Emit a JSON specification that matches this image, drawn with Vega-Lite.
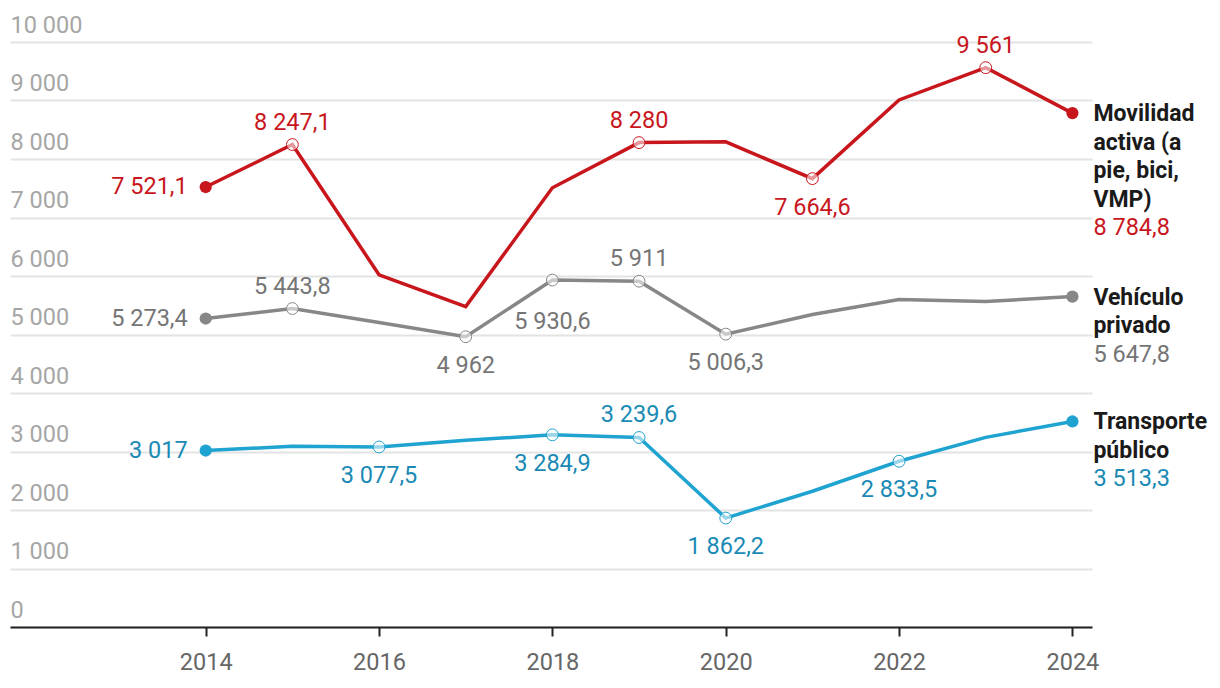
{
  "$schema": "https://vega.github.io/schema/vega-lite/v6.json",
  "width": 1082,
  "height": 585,
  "autosize": {"type": "none"},
  "padding": {"left": 10, "top": 42, "right": 128, "bottom": 61},
  "background": "white",
  "config": {
    "view": {"stroke": null},
    "font": "Roboto",
    "locale": {"number": {"decimal": ",", "thousands": " ", "grouping": [3], "currency": ["", " €"]}}
  },
  "datasets": {
    "datos": [
      {"serie": "Movilidad activa (a pie, bici, VMP)", "anio": 2014, "valor": 7521.1},
      {"serie": "Movilidad activa (a pie, bici, VMP)", "anio": 2015, "valor": 8247.1},
      {"serie": "Movilidad activa (a pie, bici, VMP)", "anio": 2016, "valor": 6020},
      {"serie": "Movilidad activa (a pie, bici, VMP)", "anio": 2017, "valor": 5478},
      {"serie": "Movilidad activa (a pie, bici, VMP)", "anio": 2018, "valor": 7508},
      {"serie": "Movilidad activa (a pie, bici, VMP)", "anio": 2019, "valor": 8280},
      {"serie": "Movilidad activa (a pie, bici, VMP)", "anio": 2020, "valor": 8293},
      {"serie": "Movilidad activa (a pie, bici, VMP)", "anio": 2021, "valor": 7664.6},
      {"serie": "Movilidad activa (a pie, bici, VMP)", "anio": 2022, "valor": 9010},
      {"serie": "Movilidad activa (a pie, bici, VMP)", "anio": 2023, "valor": 9561},
      {"serie": "Movilidad activa (a pie, bici, VMP)", "anio": 2024, "valor": 8784.8},
      {"serie": "Vehículo privado", "anio": 2014, "valor": 5273.4},
      {"serie": "Vehículo privado", "anio": 2015, "valor": 5443.8},
      {"serie": "Vehículo privado", "anio": 2016, "valor": 5205},
      {"serie": "Vehículo privado", "anio": 2017, "valor": 4962},
      {"serie": "Vehículo privado", "anio": 2018, "valor": 5930.6},
      {"serie": "Vehículo privado", "anio": 2019, "valor": 5911},
      {"serie": "Vehículo privado", "anio": 2020, "valor": 5006.3},
      {"serie": "Vehículo privado", "anio": 2021, "valor": 5341},
      {"serie": "Vehículo privado", "anio": 2022, "valor": 5597},
      {"serie": "Vehículo privado", "anio": 2023, "valor": 5563},
      {"serie": "Vehículo privado", "anio": 2024, "valor": 5647.8},
      {"serie": "Transporte público", "anio": 2014, "valor": 3017},
      {"serie": "Transporte público", "anio": 2015, "valor": 3089},
      {"serie": "Transporte público", "anio": 2016, "valor": 3077.5},
      {"serie": "Transporte público", "anio": 2017, "valor": 3191},
      {"serie": "Transporte público", "anio": 2018, "valor": 3284.9},
      {"serie": "Transporte público", "anio": 2019, "valor": 3239.6},
      {"serie": "Transporte público", "anio": 2020, "valor": 1862.2},
      {"serie": "Transporte público", "anio": 2021, "valor": 2321},
      {"serie": "Transporte público", "anio": 2022, "valor": 2833.5},
      {"serie": "Transporte público", "anio": 2023, "valor": 3242},
      {"serie": "Transporte público", "anio": 2024, "valor": 3513.3}
    ],
    "nombres": [
      {"serie": "Movilidad activa (a pie, bici, VMP)", "nombre": "Movilidad\nactiva (a\npie, bici,\nVMP)"},
      {"serie": "Vehículo privado", "nombre": "Vehículo\nprivado"},
      {"serie": "Transporte público", "nombre": "Transporte\npúblico"}
    ]
  },
  "data": {"name": "datos"},
  "encoding": {
    "x": {
      "field": "anio", "type": "quantitative",
      "scale": {"domain": [2011.742, 2024.226], "nice": false, "zero": false},
      "axis": {
        "title": null, "values": [2014, 2016, 2018, 2020, 2022, 2024], "format": "d",
        "grid": false, "domainColor": "#222222", "domainWidth": 2,
        "tickColor": "#222222", "tickWidth": 2, "tickSize": 9,
        "labelFont": "Roboto", "labelFontSize": 23.5, "labelColor": "#666666", "labelPadding": 14
      }
    },
    "y": {
      "field": "valor", "type": "quantitative",
      "scale": {"domain": [0, 10000], "nice": false},
      "axis": {
        "title": null, "values": [0, 1000, 2000, 3000, 4000, 5000, 6000, 7000, 8000, 9000, 10000],
        "format": ",d", "domain": false, "ticks": false, "tickSize": 0,
        "grid": true, "gridColor": "#e3e3e3", "gridWidth": 2,
        "labelAlign": "left", "labelBaseline": "alphabetic", "labelPadding": 0, "labelOffset": -10,
        "labelFont": "Roboto", "labelFontSize": 23.5, "labelColor": "#a6a6a6"
      }
    }
  },
  "layer": [
    {
      "mark": {"type": "line", "strokeWidth": 3.5},
      "encoding": {
        "color": {"field": "serie", "type": "nominal", "legend": null,
          "scale": {"domain": ["Movilidad activa (a pie, bici, VMP)", "Vehículo privado", "Transporte público"], "range": ["#c8161d", "#878787", "#1fa3d1"]}}
      }
    },
    {
      "transform": [{"filter": "(datum.serie === 'Movilidad activa (a pie, bici, VMP)' && indexof([2015, 2019, 2021, 2023], datum.anio) >= 0) || (datum.serie === 'Vehículo privado' && indexof([2015, 2017, 2018, 2019, 2020], datum.anio) >= 0) || (datum.serie === 'Transporte público' && indexof([2016, 2018, 2019, 2020, 2022], datum.anio) >= 0)"}],
      "mark": {"type": "point", "shape": "circle", "size": 140, "strokeWidth": 1, "fill": "white", "fillOpacity": 0.55, "opacity": 1, "filled": false},
      "encoding": {
        "stroke": {"field": "serie", "type": "nominal", "legend": null,
          "scale": {"domain": ["Movilidad activa (a pie, bici, VMP)", "Vehículo privado", "Transporte público"], "range": ["#c8161d", "#878787", "#1fa3d1"]}}
      }
    },
    {
      "transform": [{"filter": "datum.anio === 2014 || datum.anio === 2024"}],
      "mark": {"type": "point", "shape": "circle", "size": 150, "filled": true, "opacity": 1},
      "encoding": {
        "color": {"field": "serie", "type": "nominal", "legend": null,
          "scale": {"domain": ["Movilidad activa (a pie, bici, VMP)", "Vehículo privado", "Transporte público"], "range": ["#c8161d", "#878787", "#1fa3d1"]}}
      }
    },
    {
      "transform": [{"filter": "datum.anio === 2014"}],
      "mark": {"type": "text", "align": "right", "baseline": "middle", "dx": -18, "fontSize": 23.5, "font": "Roboto"},
      "encoding": {
        "text": {"field": "valor", "type": "quantitative", "format": ",.1~f"},
        "color": {"field": "serie", "type": "nominal", "legend": null,
          "scale": {"domain": ["Movilidad activa (a pie, bici, VMP)", "Vehículo privado", "Transporte público"], "range": ["#c8161d", "#757575", "#1a8ab5"]}}
      }
    },
    {
      "transform": [{"filter": "(datum.serie === 'Movilidad activa (a pie, bici, VMP)' && indexof([2015, 2019, 2023], datum.anio) >= 0) || (datum.serie === 'Vehículo privado' && indexof([2015, 2019], datum.anio) >= 0) || (datum.serie === 'Transporte público' && datum.anio === 2019)"}],
      "mark": {"type": "text", "align": "center", "baseline": "middle", "dy": -22, "fontSize": 23.5, "font": "Roboto"},
      "encoding": {
        "text": {"field": "valor", "type": "quantitative", "format": ",.1~f"},
        "color": {"field": "serie", "type": "nominal", "legend": null,
          "scale": {"domain": ["Movilidad activa (a pie, bici, VMP)", "Vehículo privado", "Transporte público"], "range": ["#c8161d", "#757575", "#1a8ab5"]}}
      }
    },
    {
      "transform": [{"filter": "(datum.serie === 'Movilidad activa (a pie, bici, VMP)' && datum.anio === 2021) || (datum.serie === 'Vehículo privado' && indexof([2017, 2020], datum.anio) >= 0) || (datum.serie === 'Transporte público' && indexof([2016, 2018, 2020, 2022], datum.anio) >= 0)"}],
      "mark": {"type": "text", "align": "center", "baseline": "middle", "dy": 29, "fontSize": 23.5, "font": "Roboto"},
      "encoding": {
        "text": {"field": "valor", "type": "quantitative", "format": ",.1~f"},
        "color": {"field": "serie", "type": "nominal", "legend": null,
          "scale": {"domain": ["Movilidad activa (a pie, bici, VMP)", "Vehículo privado", "Transporte público"], "range": ["#c8161d", "#757575", "#1a8ab5"]}}
      }
    },
    {
      "transform": [{"filter": "datum.serie === 'Vehículo privado' && datum.anio === 2018"}],
      "mark": {"type": "text", "align": "center", "baseline": "middle", "dy": 42, "fontSize": 23.5, "font": "Roboto"},
      "encoding": {
        "text": {"field": "valor", "type": "quantitative", "format": ",.1~f"},
        "color": {"field": "serie", "type": "nominal", "legend": null,
          "scale": {"domain": ["Movilidad activa (a pie, bici, VMP)", "Vehículo privado", "Transporte público"], "range": ["#c8161d", "#757575", "#1a8ab5"]}}
      }
    },
    {
      "transform": [
        {"filter": "datum.anio === 2024"},
        {"lookup": "serie", "from": {"data": {"name": "nombres"}, "key": "serie", "fields": ["nombre"]}}
      ],
      "mark": {"type": "text", "align": "left", "baseline": "alphabetic", "dx": 21, "dy": 8, "fontSize": 23, "font": "Roboto", "fontWeight": "bold", "lineBreak": "\n", "lineHeight": 28.5, "color": "#1a1a1a"},
      "encoding": {"text": {"field": "nombre", "type": "nominal"}}
    },
    {
      "transform": [{"filter": "datum.anio === 2024 && datum.serie === 'Movilidad activa (a pie, bici, VMP)'"}],
      "mark": {"type": "text", "align": "left", "baseline": "alphabetic", "dx": 21, "dy": 122, "fontSize": 23.5, "font": "Roboto"},
      "encoding": {
        "text": {"field": "valor", "type": "quantitative", "format": ",.1~f"},
        "color": {"field": "serie", "type": "nominal", "legend": null,
          "scale": {"domain": ["Movilidad activa (a pie, bici, VMP)", "Vehículo privado", "Transporte público"], "range": ["#c8161d", "#757575", "#1a8ab5"]}}
      }
    },
    {
      "transform": [{"filter": "datum.anio === 2024 && datum.serie !== 'Movilidad activa (a pie, bici, VMP)'"}],
      "mark": {"type": "text", "align": "left", "baseline": "alphabetic", "dx": 21, "dy": 65, "fontSize": 23.5, "font": "Roboto"},
      "encoding": {
        "text": {"field": "valor", "type": "quantitative", "format": ",.1~f"},
        "color": {"field": "serie", "type": "nominal", "legend": null,
          "scale": {"domain": ["Movilidad activa (a pie, bici, VMP)", "Vehículo privado", "Transporte público"], "range": ["#c8161d", "#757575", "#1a8ab5"]}}
      }
    }
  ],
  "resolve": {"scale": {"color": "independent", "stroke": "independent"}}
}
